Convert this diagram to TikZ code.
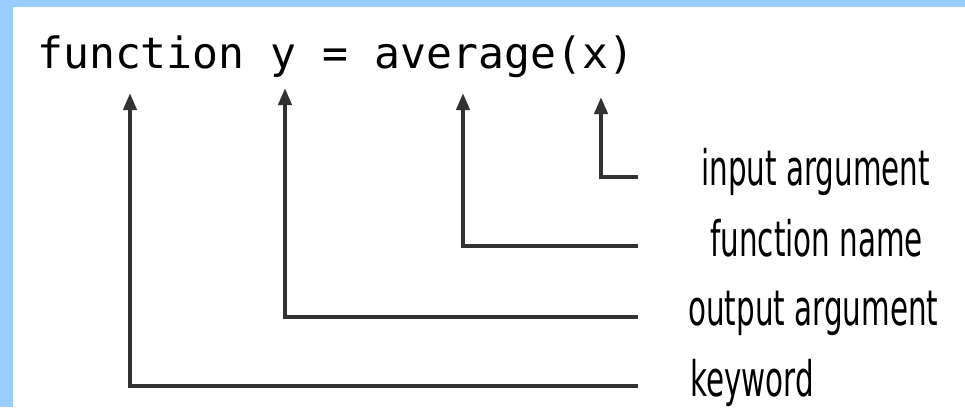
\documentclass[tikz,border=0pt]{standalone}
\usepackage{fontspec}
\usetikzlibrary{arrows.meta}
\newfontfamily\codefont{DejaVu Sans Mono}
\newfontfamily\lblfont[FakeStretch=0.6]{DejaVu Sans}
\definecolor{frameblue}{RGB}{153,204,255}
\definecolor{linegray}{RGB}{50,50,50}
\tikzset{
  conn/.style={draw=linegray, line width=4pt, line join=miter,
    -{Triangle[width=13pt,length=17pt]}},
  lbl/.style={anchor=base west, inner sep=0pt, text=black,
    font=\lblfont\fontsize{49}{56}\selectfont},
  code/.style={anchor=base west, inner sep=0pt, text=black,
    font=\codefont\fontsize{43.1}{50}\selectfont}
}
\begin{document}
\begin{tikzpicture}[x=1pt,y=-1pt]
\useasboundingbox (0,0) rectangle (965,407);
\fill[white] (0,0) rectangle (965,407);
\fill[frameblue] (0,0) rectangle (965,7);
\fill[frameblue] (0,0) rectangle (13,407);

\node[code] (sig) at (37,68) {function y = average(x)};

\coordinate (tkey) at (130,93);
\coordinate (tout) at (285,88);
\coordinate (tname) at (463,93);
\coordinate (tin) at (601,97);

\coordinate (ein) at (638,177);
\coordinate (ename) at (638,246);
\coordinate (eout) at (638,317);
\coordinate (ekey) at (638,386);

\node[lbl] (lin) at (701,185) {input argument};
\node[lbl] (lname) at (710,256) {function name};
\node[lbl] (lout) at (688,325) {output argument};
\node[lbl] (lkey) at (690,396) {keyword};

\draw[conn] (ein) -| (tin);
\draw[conn] (ename) -| (tname);
\draw[conn] (eout) -| (tout);
\draw[conn] (ekey) -| (tkey);
\end{tikzpicture}
\end{document}
